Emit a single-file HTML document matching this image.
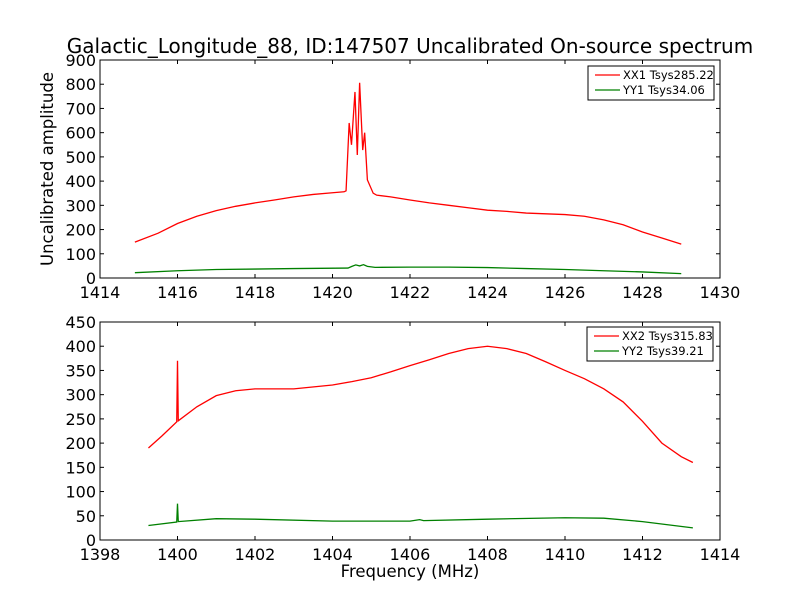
<!DOCTYPE html>
<html><head><meta charset="utf-8"><style>
body{margin:0;background:#fff;}
svg text{font-family:"DejaVu Sans","Liberation Sans",sans-serif;fill:#000;}
</style></head><body>
<svg id="c" width="800" height="600" xmlns="http://www.w3.org/2000/svg">
<rect width="800" height="600" fill="#fff"/>
<text x="410" y="53" font-size="20" text-anchor="middle">Galactic_Longitude_88, ID:147507 Uncalibrated On-source spectrum</text>
<text x="410" y="577" font-size="16.5" text-anchor="middle">Frequency (MHz)</text>
<text transform="translate(53,169) rotate(-90)" font-size="16.5" text-anchor="middle">Uncalibrated amplitude</text>
</svg>
<script>
const topXX1F=[1414.9,1415.5,1416,1416.5,1417,1417.5,1418,1418.5,1419,1419.5,1420,1420.3,1420.35,1420.43,1420.49,1420.58,1420.64,1420.70,1420.78,1420.83,1420.90,1421.05,1421.14,1421.5,1422,1422.5,1423,1423.5,1424,1424.5,1425,1425.5,1426,1426.5,1427,1427.5,1428,1428.5,1429];
const topXX1V=[148,185,225,255,278,296,310,322,335,345,352,356,360,640,550,768,508,806,528,600,405,350,342,335,322,310,300,290,280,275,268,265,262,255,240,220,190,165,140];
const topYY1F=[1414.9,1416,1417,1418,1419,1420.4,1420.5,1420.6,1420.7,1420.8,1420.9,1421.1,1422,1423,1424,1425,1426,1427,1428,1429];
const topYY1V=[22,30,35,37,39,41,48,54,50,55,48,44,45,45,43,39,35,30,25,18];
const botXX2F=[1399.25,1399.6,1399.98,1400.0,1400.02,1400.5,1401,1401.5,1402,1403,1404,1404.5,1405,1405.5,1406,1406.5,1407,1407.5,1408,1408.5,1409,1409.5,1410,1410.5,1411,1411.5,1412,1412.5,1413,1413.3];
const botXX2V=[190,215,244,370,246,275,298,308,312,312,320,327,335,347,360,372,385,395,400,395,385,368,350,333,312,285,245,200,172,160];
const botYY2F=[1399.25,1399.98,1400.0,1400.02,1401,1402,1404,1406,1406.25,1406.35,1408,1410,1411,1412,1413.3];
const botYY2V=[30,37,75,38,44,43,39,39,42,40,43,46,45,38,25];
const topXTicks=[1414,1416,1418,1420,1422,1424,1426,1428,1430];
const topYTicks=[0,100,200,300,400,500,600,700,800,900];
const botXTicks=[1398,1400,1402,1404,1406,1408,1410,1412,1414];
const botYTicks=[0,50,100,150,200,250,300,350,400,450];
const topLegend=["XX1 Tsys285.22","YY1 Tsys34.06"];
const botLegend=["XX2 Tsys315.83","YY2 Tsys39.21"];
const NS="http://www.w3.org/2000/svg";
const svg=document.getElementById('c');
function mk(t,a,p){const e=document.createElementNS(NS,t);for(const k in a)e.setAttribute(k,a[k]);(p||svg).appendChild(e);return e;}
function panel(name,x0,x1,y0,y1,xmin,xmax,ymin,ymax,xt,yt,series,leg,lx,ly){
  const g=mk('g',{});
  
  
  const X=v=>x0+(v-xmin)/(xmax-xmin)*(x1-x0);
  const Y=v=>y1-(v-ymin)/(ymax-ymin)*(y1-y0);
  series.forEach(s=>{
    const d=s.f.map((f,i)=>(i?'L':'M')+X(f).toFixed(2)+','+Y(s.v[i]).toFixed(2)).join('');
    const p=mk('path',{d:d,fill:'none',stroke:s.c,'stroke-width':1.3},g);
    
    
  });
  mk('rect',{x:x0,y:y0,width:x1-x0,height:y1-y0,fill:'none',stroke:'#000','stroke-width':1},g);
  xt.forEach(t=>{const x=X(t);
    mk('line',{x1:x,x2:x,y1:y1,y2:y1-4,stroke:'#000'},g);
    mk('line',{x1:x,x2:x,y1:y0,y2:y0+4,stroke:'#000'},g);
    const tx=mk('text',{x:x,y:y1+20,'font-size':16,'text-anchor':'middle'},g);tx.textContent=t;
    
    
  });
  yt.forEach(t=>{const y=Y(t);
    mk('line',{x1:x0,x2:x0+4,y1:y,y2:y,stroke:'#000'},g);
    mk('line',{x1:x1,x2:x1-4,y1:y,y2:y,stroke:'#000'},g);
    const tx=mk('text',{x:x0-4,y:y+6,'font-size':16,'text-anchor':'end'},g);tx.textContent=t;
    
    
  });
  const lg=mk('g',{},g);
  
  
  mk('rect',{x:lx,y:ly,width:126,height:34,fill:'#fff',stroke:'#000','stroke-width':1},lg);
  leg.forEach((l,i)=>{const yy=ly+9+i*15;
    mk('line',{x1:lx+7,x2:lx+32,y1:yy,y2:yy,stroke:series[i].c,'stroke-width':1.3},lg);
    const tx=mk('text',{x:lx+35,y:yy+4,'font-size':11.5},lg);tx.textContent=l;
    
    
  });
}
panel('top-panel',100,720,60,278,1414,1430,0,900,topXTicks,topYTicks,
 [{f:topXX1F,v:topXX1V,c:'#ff0000',n:'xx1-line'},{f:topYY1F,v:topYY1V,c:'#008000',n:'yy1-line'}],topLegend,588,66);
panel('bottom-panel',100,720,322,540,1398,1414,0,450,botXTicks,botYTicks,
 [{f:botXX2F,v:botXX2V,c:'#ff0000',n:'xx2-line'},{f:botYY2F,v:botYY2V,c:'#008000',n:'yy2-line'}],botLegend,587,327);
</script>
</body></html>
